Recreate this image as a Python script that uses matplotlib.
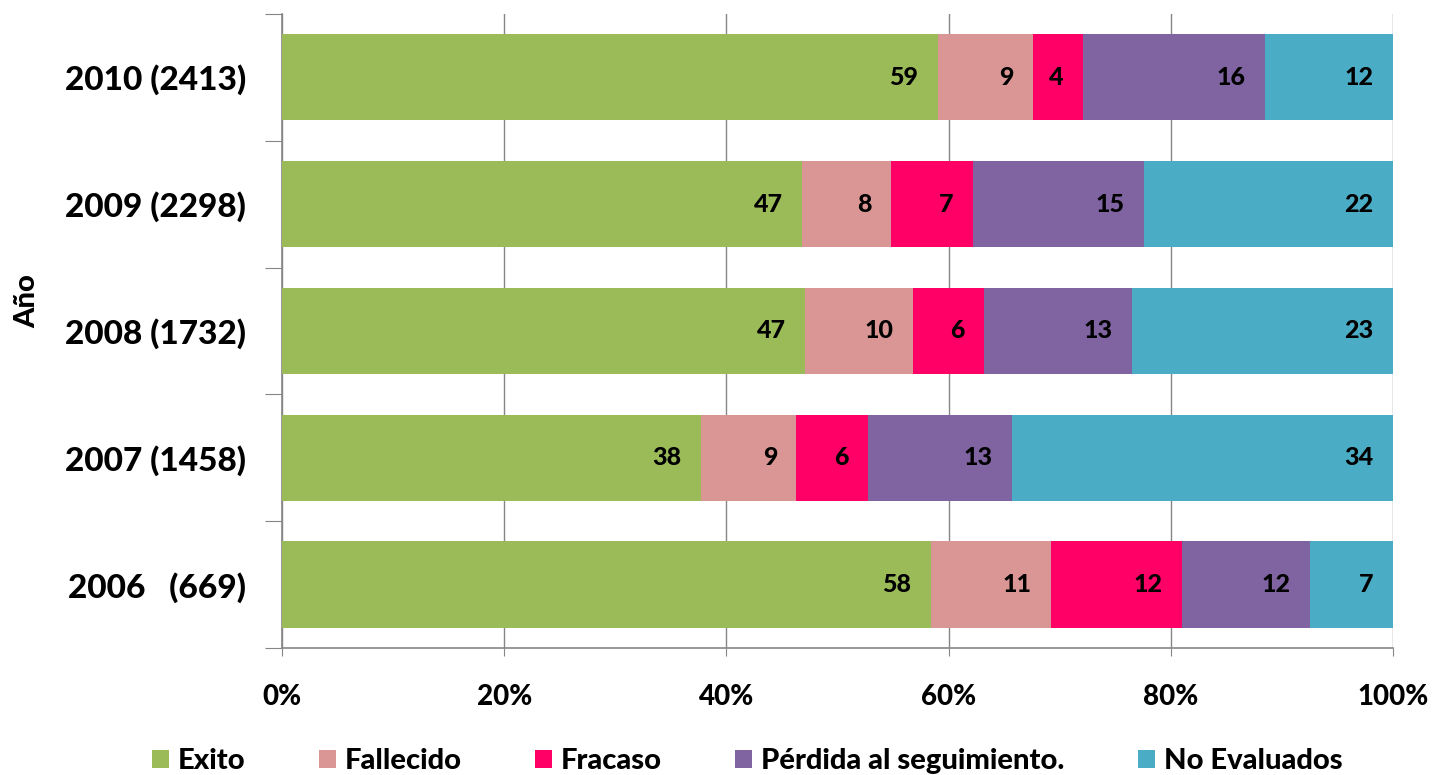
import matplotlib
matplotlib.use("Agg")
import matplotlib.pyplot as plt
import numpy as np

plt.rcParams['font.family'] = ['Lato', 'DejaVu Sans']
plt.rcParams['font.weight'] = 'black'

# rows from bottom to top
years = ['2006   (669)', '2007 (1458)', '2008 (1732)', '2009 (2298)', '2010 (2413)']
series = ['Exito', 'Fallecido', 'Fracaso', 'Pérdida al seguimiento.', 'No Evaluados']
colors = ['#9BBB59', '#D99694', '#FF0066', '#8064A2', '#4BACC6']

# bar lengths (%)
exito = [58.4, 37.7, 47.1, 46.8, 59.0]
fallecido = [10.8, 8.6, 9.7, 8.05, 8.6]
fracaso = [11.8, 6.4, 6.4, 7.35, 4.5]
perdida = [11.55, 13.0, 13.3, 15.35, 16.4]
no_evaluados = [7.45, 34.3, 23.5, 22.45, 11.5]

# printed data labels
lbl_exito = [58, 38, 47, 47, 59]
lbl_fallecido = [11, 9, 10, 8, 9]
lbl_fracaso = [12, 6, 6, 7, 4]
lbl_perdida = [12, 13, 13, 15, 16]
lbl_no_eval = [7, 34, 23, 22, 12]

values = [exito, fallecido, fracaso, perdida, no_evaluados]
labels = [lbl_exito, lbl_fallecido, lbl_fracaso, lbl_perdida, lbl_no_eval]

fig = plt.figure(figsize=(14.34, 7.75), dpi=100)
ax = fig.add_axes([0.1967, 0.164, 0.7748, 0.818])

y = np.arange(len(years))
left = np.zeros(len(years))
for vals, lbls, name, col in zip(values, labels, series, colors):
    vals = np.array(vals)
    ax.barh(y, vals, left=left, height=0.68, color=col, label=name, zorder=3)
    for yi, (l, v, t) in enumerate(zip(left, vals, lbls)):
        ax.annotate(str(t), xy=(l + v, yi), xytext=(-14, 0), textcoords='offset points',
                    ha='right', va='center', fontsize=18, fontweight='black',
                    color='black', zorder=4)
    left += vals

ax.set_xlim(0, 100)
ax.set_ylim(-0.5, len(years) - 0.5)

ax.set_xticks([0, 20, 40, 60, 80, 100])
ax.set_xticklabels([f'{t}%' for t in [0, 20, 40, 60, 80, 100]], fontsize=20, fontweight='black')
ax.tick_params(axis='x', length=6, color='#868686', pad=20)
ax.grid(axis='x', color='#868686', linewidth=1, zorder=0)

ax.set_yticks(np.arange(-0.5, len(years)))
ax.set_yticklabels([])
ax.tick_params(axis='y', which='major', length=12, color='#868686', direction='out')
ax.set_yticks(y, minor=True)
ax.set_yticklabels(years, minor=True, fontsize=24, fontweight='black')
ax.tick_params(axis='y', which='minor', length=0, pad=26)

for s in ['top', 'right']:
    ax.spines[s].set_visible(False)
for s in ['left', 'bottom']:
    ax.spines[s].set_color('#868686')
    ax.spines[s].set_linewidth(1.2)

fig.text(0.019, 0.612, 'Año', rotation=90, ha='center', va='center', fontsize=21,
         fontweight='black')

ax.legend(loc='lower center', bbox_to_anchor=(0.521, -0.014), bbox_transform=fig.transFigure,
          ncol=5, frameon=False, prop={'weight': 'black', 'size': 21},
          handlelength=0.6, handleheight=0.6, handletextpad=0.3, columnspacing=2.5,
          borderaxespad=0)

fig.savefig('out.png', dpi=100)
